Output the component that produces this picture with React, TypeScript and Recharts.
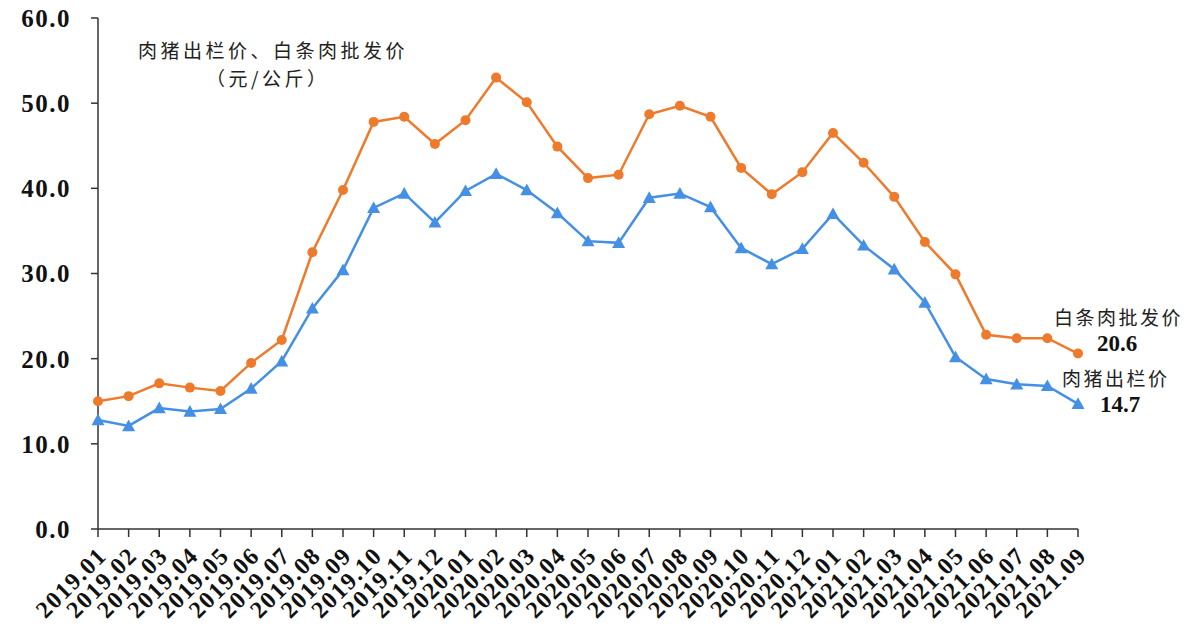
import React from 'react';
import { LineChart, Line, XAxis, YAxis } from 'recharts';

const months = [
  '2019.01', '2019.02', '2019.03', '2019.04', '2019.05', '2019.06', '2019.07', '2019.08', '2019.09', '2019.10', '2019.11', '2019.12',
  '2020.01', '2020.02', '2020.03', '2020.04', '2020.05', '2020.06', '2020.07', '2020.08', '2020.09', '2020.10', '2020.11', '2020.12',
  '2021.01', '2021.02', '2021.03', '2021.04', '2021.05', '2021.06', '2021.07', '2021.08', '2021.09',
];

// 白条肉批发价
const wholesale = [
  15.0, 15.6, 17.1, 16.6, 16.2, 19.5, 22.2, 32.5, 39.8, 47.8, 48.4, 45.2,
  48.0, 53.0, 50.1, 44.9, 41.2, 41.6, 48.7, 49.7, 48.4, 42.4, 39.3, 41.9,
  46.5, 43.0, 39.0, 33.7, 29.9, 22.8, 22.4, 22.4, 20.6,
];

// 肉猪出栏价
const hogPrice = [
  12.8, 12.1, 14.2, 13.8, 14.1, 16.5, 19.7, 25.9, 30.4, 37.7, 39.4, 36.0,
  39.7, 41.7, 39.8, 37.1, 33.8, 33.6, 38.9, 39.4, 37.8, 33.0, 31.1, 32.9,
  37.0, 33.3, 30.5, 26.6, 20.2, 17.6, 17.0, 16.8, 14.7,
];

const yTicks = [0, 10, 20, 30, 40, 50, 60];

const ORANGE = '#EE7A2C';
const BLUE = '#4590E4';
const SERIF = '"Liberation Serif", "Times New Roman", serif';
const CJK = '"Noto Sans CJK SC", sans-serif';

const chartData = months.map((m, i) => ({
  month: m,
  wholesale: wholesale[i],
  hog: hogPrice[i],
}));

const TriangleDot = (props: any) => {
  const { cx, cy } = props;
  if (cx == null || cy == null) return null;
  const s = 6.5;
  return (
    <path
      d={`M${cx},${cy - s} L${cx + s},${cy + s * 0.8} L${cx - s},${cy + s * 0.8} Z`}
      fill={BLUE}
    />
  );
};

const XTick = (props: any) => {
  const { x, y, payload } = props;
  return (
    <g transform={`translate(${x + 10},${y + 18})`}>
      <text
        x={0}
        y={0}
        textAnchor="end"
        transform="rotate(-45)"
        fontFamily={SERIF}
        fontWeight="bold"
        fontSize={24}
        letterSpacing={1.5}
        fill="#111"
      >
        {payload.value}
      </text>
    </g>
  );
};

const label: React.CSSProperties = {
  position: 'absolute',
  fontFamily: CJK,
  fontSize: 19,
  color: '#222',
  letterSpacing: 3.5,
  whiteSpace: 'nowrap',
};

const num: React.CSSProperties = {
  position: 'absolute',
  fontFamily: SERIF,
  fontWeight: 'bold',
  fontSize: 23,
  color: '#111',
};

export default function App() {
  return (
    <div style={{ position: 'absolute', left: 0, top: 0, width: 1200, height: 634, background: '#fff' }}>
      <LineChart width={1200} height={634} data={chartData} margin={{ top: 18, right: 122, left: 0, bottom: 0 }}>
        <XAxis
          dataKey="month"
          interval={0}
          height={105}
          tick={<XTick />}
          tickSize={8}
          stroke="#333"
          strokeWidth={1.5}
        />
        <YAxis
          domain={[0, 60]}
          ticks={yTicks}
          width={98}
          tickSize={7}
          tickMargin={20}
          stroke="#333"
          strokeWidth={1.5}
          tickFormatter={(v: number) => v.toFixed(1)}
          tick={{ fontFamily: SERIF, fontWeight: 'bold', fontSize: 25, letterSpacing: 1.5, fill: '#111' }}
        />
        <Line
          dataKey="wholesale"
          stroke={ORANGE}
          strokeWidth={2.5}
          dot={{ r: 5, fill: ORANGE, stroke: ORANGE, strokeWidth: 0 }}
          isAnimationActive={false}
        />
        <Line
          dataKey="hog"
          stroke={BLUE}
          strokeWidth={2.5}
          dot={<TriangleDot />}
          isAnimationActive={false}
        />
      </LineChart>
      <div style={{ ...label, left: 138, top: 36 }}>肉猪出栏价、白条肉批发价</div>
      <div style={{ ...label, left: 206, top: 64 }}>（元/公斤）</div>
      <div style={{ ...label, left: 1054, top: 303, letterSpacing: 2.5 }}>白条肉批发价</div>
      <div style={{ ...num, left: 1097, top: 331 }}>20.6</div>
      <div style={{ ...label, left: 1062, top: 364, letterSpacing: 2.5 }}>肉猪出栏价</div>
      <div style={{ ...num, left: 1100, top: 392 }}>14.7</div>
    </div>
  );
}
